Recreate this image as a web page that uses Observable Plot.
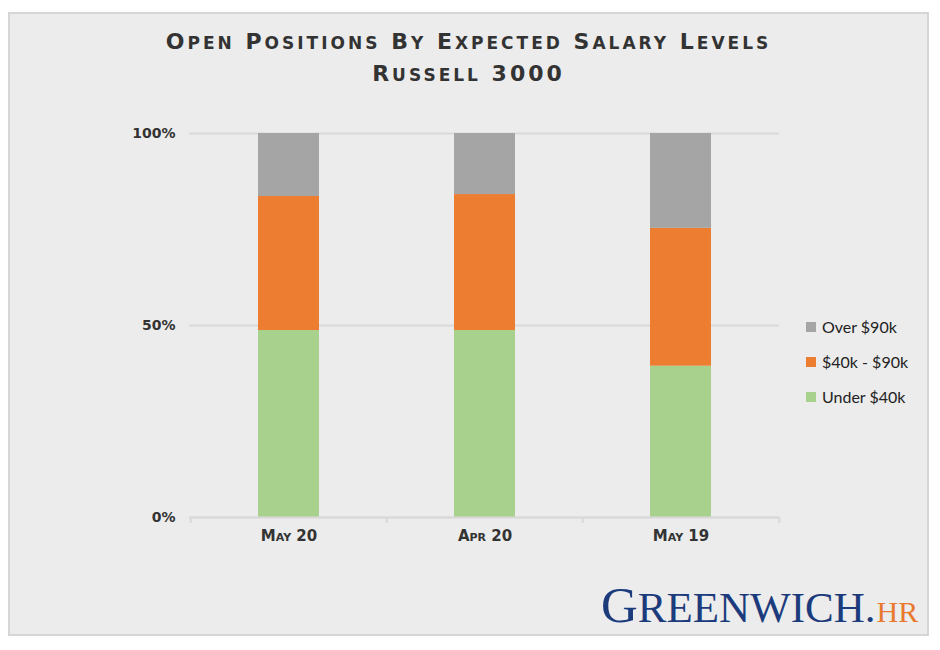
<!DOCTYPE html>
<html>
<head>
<meta charset="utf-8">
<script src="https://cdn.jsdelivr.net/npm/d3@7"></script>
<script src="https://cdn.jsdelivr.net/npm/@observablehq/plot@0.6"></script>
<style>
  html, body { margin: 0; padding: 0; background: #ffffff; }
  #page { position: relative; width: 940px; height: 650px; overflow: hidden; }
  #frame { position: absolute; left: 8px; top: 12px; width: 917px; height: 620px;
           border: 2px solid #d6d6d6; background: #ececec; }
  #title { position: absolute; left: 8px; width: 921px; top: 27px; text-align: center;
           font-family: "DejaVu Sans", sans-serif; font-weight: bold;
           letter-spacing: 3px; line-height: 30px; color: #333333; }
  #title .cap { font-size: 22px; }
  #title .sc { font-size: 17px; }
  #chart { position: absolute; left: 0; top: 0; }
  #legend { position: absolute; left: 806px; top: 309px; font-family: Lato, "Open Sans", sans-serif;
            font-size: 16px; color: #222; }
  #legend .row { display: flex; align-items: center; height: 35px; }
  #legend .sw { width: 10px; height: 10px; margin-right: 6px; }
  #logo { position: absolute; left: 601px; top: 580px; display: flex; align-items: baseline;
          font-family: "Liberation Serif", "Times New Roman", serif; color: #1c3b7c; white-space: nowrap; line-height: 1; }
  #logo .g { font-size: 51px; }
  #logo .r { font-size: 43px; }
  #logo .hr { font-size: 30px; color: #e8792f; margin-left: 1px; }
</style>
</head>
<body>
<div id="page">
  <div id="frame"></div>
  <div id="title"></div>
  <div id="chart"></div>
  <div id="legend"></div>
  <div id="logo"><span class="g">G</span><span class="r">REENWICH</span><span class="r">.</span><span class="hr">HR</span></div>
</div>
<script>
// ---- data ----
const titleLines = ["Open Positions By Expected Salary Levels", "Russell 3000"];
const periods = ["May 20", "Apr 20", "May 19"];
const levels = ["Under $40k", "$40k - $90k", "Over $90k"];       // stack order, bottom to top
const legendOrder = ["Over $90k", "$40k - $90k", "Under $40k"];  // legend order, top to bottom
const underValues = [48.7, 48.7, 39.4];
const midValues = [34.9, 35.4, 35.9];
const overValues = [16.4, 15.9, 24.7];
const yTicks = [0, 50, 100];
const yTickLabels = ["0%", "50%", "100%"];
const colors = ["#a9d18e", "#ed7d31", "#a5a5a5"];

// ---- table ----
const series = [underValues, midValues, overValues];
const rows = [];
periods.forEach((p, i) => {
  levels.forEach((lvl, j) => rows.push({period: p, level: lvl, value: series[j][i]}));
});

// ---- title (copperplate-like small caps) ----
function smallCaps(text) {
  return text.split(" ").map(w => {
    const first = w[0], rest = w.slice(1);
    const restHtml = rest.replace(/[a-z]+|[^a-z]+/g, s =>
      /[a-z]/.test(s) ? `<span class="sc">${s.toUpperCase()}</span>` : `<span class="cap">${s}</span>`);
    return `<span class="cap">${first}</span>${restHtml}`;
  }).join('<span class="cap"> </span>');
}
document.getElementById("title").innerHTML = titleLines.map(t => `<div>${smallCaps(t)}</div>`).join("");

// ---- legend ----
const colorOf = Object.fromEntries(levels.map((l, i) => [l, colors[i]]));
document.getElementById("legend").innerHTML = legendOrder
  .map(l => `<div class="row"><span class="sw" style="background:${colorOf[l]}"></span><span>${l}</span></div>`)
  .join("");

// ---- chart ----
const W = 940, H = 650;
const mL = 189, mR = 161, mT = 133, mB = 133;
const step = (W - mL - mR) / periods.length;
const tickLen = 6 / ((H - mT - mB) / 100);

const chart = Plot.plot({
  width: W,
  height: H,
  marginLeft: mL,
  marginRight: mR,
  marginTop: mT,
  marginBottom: mB,
  style: {background: "transparent", color: "#333333"},
  x: {type: "band", domain: periods, paddingInner: 0.69, paddingOuter: 0.345, label: null},
  y: {domain: [0, 100], label: null},
  color: {domain: levels, range: colors},
  marks: [
    Plot.gridY(yTicks, {stroke: "#d9d9d9", strokeOpacity: 1, strokeWidth: 2}),
    Plot.ruleX(periods, {x: d => d, dx: -step / 2, y1: 0, y2: -tickLen, stroke: "#d9d9d9", strokeWidth: 2}),
    Plot.ruleX(periods.slice(-1), {x: d => d, dx: step / 2, y1: 0, y2: -tickLen, stroke: "#d9d9d9", strokeWidth: 2}),
    Plot.barY(rows, {x: "period", y: "value", fill: "level", order: levels}),
    Plot.ruleY([0], {stroke: "#d9d9d9", strokeWidth: 2}),
    Plot.axisY({
      ticks: yTicks, tickSize: 0, tickPadding: 14,
      tickFormat: d => yTickLabels[yTicks.indexOf(d)],
      fontSize: 14, fontWeight: "bold", fontFamily: "DejaVu Sans", letterSpacing: "3.5px", fill: "#333"
    }),
    Plot.axisX({
      tickSize: 0, tickPadding: 13,
      fontSize: 15, fontWeight: "bold", fontFamily: "DejaVu Sans", fontVariant: "small-caps",
      letterSpacing: "1.5px", fill: "#333"
    })
  ]
});
document.getElementById("chart").appendChild(chart);
</script>
</body>
</html>
